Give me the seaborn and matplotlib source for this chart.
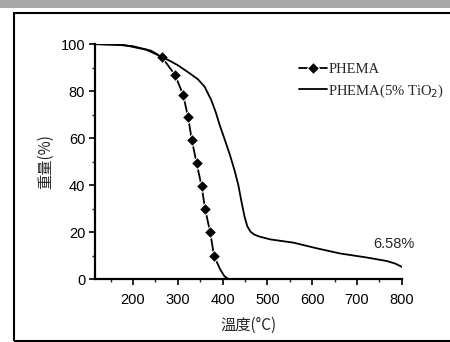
import numpy as np
import matplotlib
matplotlib.use('Agg')
import matplotlib.pyplot as plt
import matplotlib.ticker as mticker
from matplotlib.patches import Rectangle
import seaborn as sns

phema_temp = [115, 160, 200, 240, 264, 294, 312, 323, 331, 342, 353, 361, 372, 381, 394, 404, 413]
phema_peso = [100, 99.8, 99.1, 97.2, 94.6, 86.8, 78.3, 68.8, 59.4, 49.2, 39.6, 29.7, 20.1, 9.8, 4.3, 1.2, 0]
phema_marcas = [4, 5, 6, 7, 8, 9, 10, 11, 12, 13]

tio2_temp = [115, 180, 230, 264, 282, 300, 327, 345, 360, 375, 385, 394, 405, 416, 427,
             435, 442, 449, 455, 462, 470, 480, 506, 558, 610, 662, 721, 766, 785, 800]
tio2_peso = [100, 99.6, 97.6, 94.6, 92.9, 91.0, 87.5, 85.0, 81.8, 76.0, 70.8, 65.2, 59.2, 53.0, 46.0,
             40.0, 33.0, 26.5, 22.5, 20.2, 19.0, 18.2, 16.9, 15.5, 13.1, 10.9, 9.2, 7.7, 6.6, 5.2]

etiquetas = ['PHEMA', 'PHEMA(5% TiO$_2$)']
residuo = '6.58%'

sns.set_style('ticks')
plt.rcParams['font.family'] = ['Liberation Sans', 'DejaVu Sans']

fig = plt.figure(figsize=(4.5, 3.42), dpi=100)
ax = fig.add_axes([0.211, 0.184, 0.682, 0.687])

sns.lineplot(x=phema_temp, y=phema_peso, ax=ax, color='black', linewidth=1.3,
             marker='D', markersize=6.5, markevery=phema_marcas, label=etiquetas[0])
sns.lineplot(x=tio2_temp, y=tio2_peso, ax=ax, color='black', linewidth=1.3,
             label=etiquetas[1])

ax.set_xlim(115, 800)
ax.set_ylim(0, 100)
ax.xaxis.set_major_locator(mticker.FixedLocator([200, 300, 400, 500, 600, 700, 800]))
ax.xaxis.set_minor_locator(mticker.MultipleLocator(50))
ax.yaxis.set_major_locator(mticker.MultipleLocator(20))
ax.yaxis.set_minor_locator(mticker.MultipleLocator(10))
ax.tick_params(which='major', length=4, width=1.2, labelsize=10.5, colors='black')
ax.tick_params(axis='x', which='major', pad=6)
ax.tick_params(axis='y', which='major', pad=3)
ax.tick_params(which='minor', length=2, width=1)
sns.despine(ax=ax)
for s in ['left', 'bottom']:
    ax.spines[s].set_linewidth(1.6)
    ax.spines[s].set_color('black')

# Titulos
ax.set_xlabel('溫度(°C)', fontsize=11, family=['Noto Sans CJK SC', 'DejaVu Sans'], labelpad=7)
ax.set_ylabel('重量(%)', fontsize=11, family=['Noto Sans CJK SC', 'DejaVu Sans'], labelpad=5)

ax.text(829, 15, residuo, ha='right', va='center', fontsize=10.5, clip_on=False)

leg = ax.legend(loc='upper left', bbox_to_anchor=(0.665, 0.922), frameon=False,
                prop={'family': 'Liberation Serif', 'size': 10.5},
                handlelength=1.9, handletextpad=0.1, labelspacing=0.45,
                borderaxespad=0, borderpad=0)

# marco escaneado de la figura
fig.patches.append(Rectangle((0.031, 0.003), 1.0, 0.96, transform=fig.transFigure,
                             fill=False, edgecolor='black', linewidth=1.5))
fig.patches.append(Rectangle((0, 0.977), 1.0, 0.03, transform=fig.transFigure,
                             facecolor='#a8a8a8', edgecolor='none'))

fig.savefig('out.png', dpi=100)
